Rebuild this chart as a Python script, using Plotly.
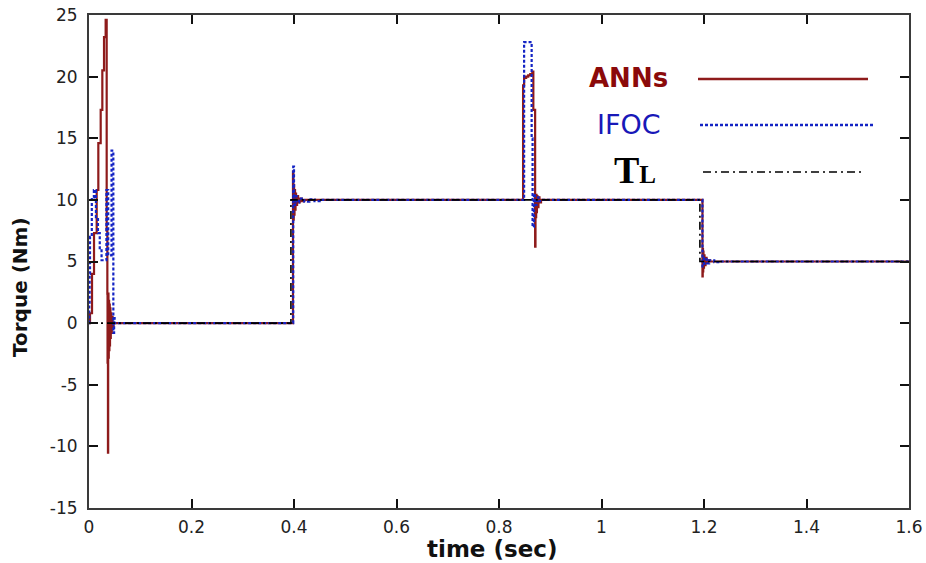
import plotly.graph_objects as go

# ---------------- data ----------------
ann_t = [0, 0.002, 0.0059, 0.0098, 0.015, 0.0182, 0.0228, 0.026, 0.0293, 0.0325,
         0.0345, 0.0358, 0.0362, 0.0366, 0.037, 0.0374, 0.038, 0.0386, 0.0392, 0.0398,
         0.0405, 0.041, 0.0418, 0.0425, 0.0435, 0.0445, 0.046, 0.048,
         0.398, 0.3988, 0.3995, 0.4002, 0.401, 0.402, 0.403, 0.404, 0.406, 0.408, 0.411, 0.415, 0.42,
         0.847, 0.849, 0.853, 0.857, 0.861, 0.865, 0.867, 0.8705, 0.8712, 0.8718, 0.8725,
         0.8732, 0.874, 0.875, 0.877, 0.879, 0.882,
         1.197, 1.1975, 1.198, 1.1985, 1.199, 1.2, 1.201, 1.203, 1.205, 1.208, 1.212, 1.6]
ann_v = [0, 0.8, 4.0, 7.3, 10.8, 14.6, 17.3, 20.5, 23.2, 24.6,
         7.5, 2.4, -3.2, 1.5, -10.5, 2.4, -2.8, 1.8, -2.2, 1.5,
         -1.8, 1.2, -1.2, 0.8, -0.8, 0.5, -0.3, 0,
         12.3, 8.4, 11.2, 8.8, 10.8, 9.2, 10.5, 9.6, 10.3, 9.8, 10.1, 9.9, 10.0,
         19.3, 19.9, 20.0, 20.1, 20.2, 20.4, 17.3, 6.2, 10.2, 8.6, 10.4,
         9.0, 10.3, 9.4, 10.2, 9.8, 10.0,
         3.8, 6.0, 4.2, 5.8, 4.5, 5.5, 4.7, 5.3, 4.9, 5.1, 5.0, 5.0]

ifoc_t = [0, 0.0005, 0.0012, 0.002, 0.0055, 0.0095, 0.0135, 0.0175, 0.021, 0.0245,
          0.034, 0.0375, 0.044, 0.0475, 0.049, 0.050,
          0.3985, 0.4, 0.402, 0.405, 0.41, 0.42, 0.43, 0.44, 0.45,
          0.849, 0.8637, 0.8655, 0.868, 0.87, 0.873, 0.877, 0.88,
          1.197, 1.2, 1.205, 1.21, 1.22, 1.23, 1.6]
ifoc_v = [0, 1.5, 4.0, 7.0, 10.2, 10.8, 8.6, 7.3, 6.0, 5.1,
          10.8, 5.5, 14.0, -0.8, 0.4, 0,
          12.7, 9.6, 10.3, 9.8, 10.1, 9.85, 10.05, 9.9, 10.0,
          22.8, 15.0, 7.8, 10.5, 9.6, 10.2, 9.9, 10.0,
          4.6, 5.3, 4.85, 5.1, 4.95, 5.0, 5.0]

tl_t = [0, 0.394, 1.192, 1.6]
tl_v = [0, 10, 5, 5]

x_ticks = [0, 0.2, 0.4, 0.6, 0.8, 1, 1.2, 1.4, 1.6]
x_tick_labels = ["0", "0.2", "0.4", "0.6", "0.8", "1", "1.2", "1.4", "1.6"]
y_ticks = [-15, -10, -5, 0, 5, 10, 15, 20, 25]
y_tick_labels = ["-15", "-10", "-5", "0", "5", "10", "15", "20", "25"]

# ---------------- styles ----------------
RED = "#8E1B1B"
BLUE = "#1424C4"
BLACK = "#000000"

W, H = 926, 563
L, R, T, B = 89, 17, 15, 55
PW, PH = W - L - R, H - T - B


def px(x):
    return (x - L) / PW


def py(y):
    return (H - B - y) / PH


fig = go.Figure()
fig.add_trace(go.Scatter(x=ann_t, y=ann_v, mode="lines", line=dict(color=RED, width=2.2, shape="hv"),
                         name="ANNs", showlegend=False))
fig.add_trace(go.Scatter(x=ifoc_t, y=ifoc_v, mode="lines",
                         line=dict(color=BLUE, width=2.2, shape="hv", dash="3px,2px"),
                         name="IFOC", showlegend=False))
fig.add_trace(go.Scatter(x=tl_t, y=tl_v, mode="lines",
                         line=dict(color=BLACK, width=1.6, shape="hv", dash="8px,4px,2px,4px"),
                         name="TL", showlegend=False))

tickfont = dict(family="DejaVu Sans", size=17, color="#222")
axis_common = dict(showline=True, linecolor="#3a3a3a", linewidth=2, mirror="ticks",
                   ticks="inside", ticklen=9, tickwidth=1.5, tickcolor="#111",
                   showgrid=False, zeroline=False, tickfont=tickfont, automargin=False)

fig.update_xaxes(range=[0, 1.6], tickvals=x_ticks, ticktext=x_tick_labels,
                 ticklabelstandoff=3, **axis_common)
fig.update_yaxes(range=[-15, 25], tickvals=y_ticks, ticktext=y_tick_labels,
                 ticklabelstandoff=6, **axis_common)

annotations = [
    dict(text="<b>time (sec)</b>", x=px(492), y=py(549), xref="paper", yref="paper",
         showarrow=False, xanchor="center", yanchor="middle",
         font=dict(family="DejaVu Sans", size=23, color="#111")),
    dict(text="<b>Torque (Nm)</b>", x=px(20), y=py(287), xref="paper", yref="paper",
         showarrow=False, xanchor="center", yanchor="middle", textangle=-90,
         font=dict(family="DejaVu Sans", size=20, color="#111")),
    dict(text="<b>ANNs</b>", x=px(628), y=py(78), xref="paper", yref="paper",
         showarrow=False, xanchor="center", yanchor="middle",
         font=dict(family="DejaVu Sans", size=26, color="#8B0A0A")),
    dict(text="IFOC", x=px(629), y=py(124), xref="paper", yref="paper",
         showarrow=False, xanchor="center", yanchor="middle",
         font=dict(family="DejaVu Sans", size=27, color="#1818B8")),
    dict(text="<b>T<span style='font-size:25px'>L</span></b>", x=px(635), y=py(170),
         xref="paper", yref="paper", showarrow=False, xanchor="center", yanchor="middle",
         font=dict(family="Liberation Serif", size=38, color="#000")),
]

shapes = [
    dict(type="line", xref="paper", yref="paper", x0=px(698), x1=px(868), y0=py(79), y1=py(79),
         line=dict(color=RED, width=2.5)),
    dict(type="line", xref="paper", yref="paper", x0=px(700), x1=px(873), y0=py(125), y1=py(125),
         line=dict(color=BLUE, width=2.5, dash="3px,2px")),
    dict(type="line", xref="paper", yref="paper", x0=px(703), x1=px(865), y0=py(172), y1=py(172),
         line=dict(color=BLACK, width=1.5, dash="8px,4px,2px,4px")),
]

fig.update_layout(width=W, height=H, margin=dict(l=L, r=R, t=T, b=B, pad=0, autoexpand=False),
                  plot_bgcolor="white", paper_bgcolor="white",
                  annotations=annotations, shapes=shapes, showlegend=False)

fig.write_html("out.html")
